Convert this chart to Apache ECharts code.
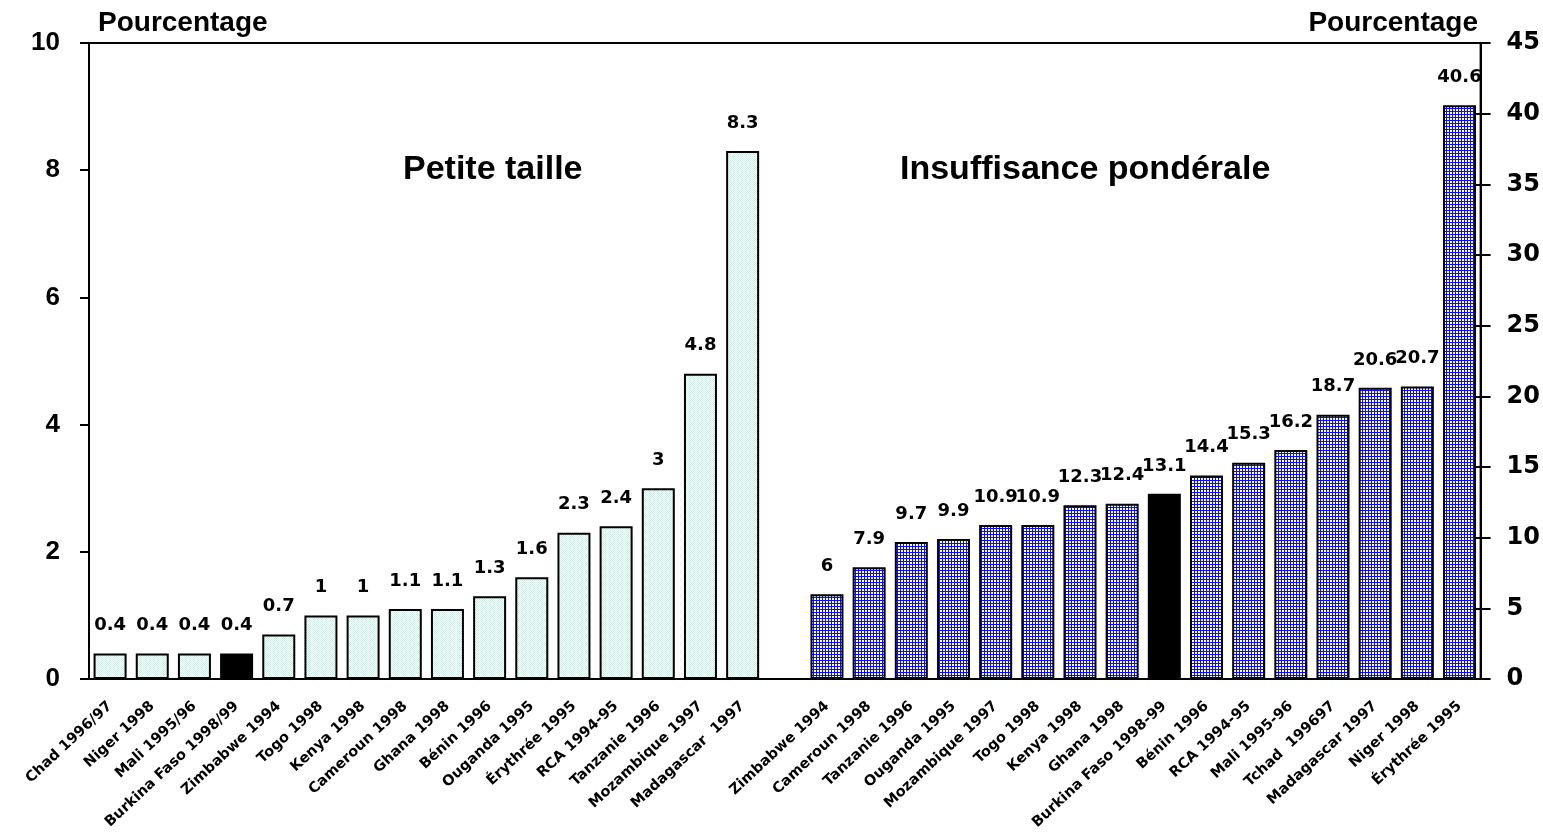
<!DOCTYPE html>
<html>
<head>
<meta charset="utf-8">
<script src="https://cdn.jsdelivr.net/npm/echarts@6/dist/echarts.min.js"></script>
<style>
  html, body { margin: 0; padding: 0; background: #fff; }
  #chart { width: 1543px; height: 840px; }
</style>
</head>
<body>
<div id="chart"></div>
<script>
// Petite taille (axe gauche)
const leftCats = ['Chad 1996/97', 'Niger 1998', 'Mali 1995/96', 'Burkina Faso 1998/99', 'Zimbabwe 1994',
  'Togo 1998', 'Kenya 1998', 'Cameroun 1998', 'Ghana 1998', 'Bénin 1996', 'Ouganda 1995',
  'Érythrée 1995', 'RCA 1994-95', 'Tanzanie 1996', 'Mozambique 1997', 'Madagascar  1997'];
const leftVals = [0.4, 0.4, 0.4, 0.4, 0.7, 1, 1, 1.1, 1.1, 1.3, 1.6, 2.3, 2.4, 3, 4.8, 8.3];

// Insuffisance pondérale (axe droit)
const rightCats = ['Zimbabwe 1994', 'Cameroun 1998', 'Tanzanie 1996', 'Ouganda 1995', 'Mozambique 1997',
  'Togo 1998', 'Kenya 1998', 'Ghana 1998', 'Burkina Faso 1998-99', 'Bénin 1996', 'RCA 1994-95',
  'Mali 1995-96', 'Tchad  199697', 'Madagascar 1997', 'Niger 1998', 'Érythrée 1995'];
const rightVals = [6, 7.9, 9.7, 9.9, 10.9, 10.9, 12.3, 12.4, 13.1, 14.4, 15.3, 16.2, 18.7, 20.6, 20.7, 40.6];

const highlightLeft = 'Burkina Faso 1998/99';
const highlightRight = 'Burkina Faso 1998-99';

const leftAxis = { min: 0, max: 10, interval: 2 };
const rightAxis = { min: 0, max: 45, interval: 5 };

// motifs de remplissage
function makePattern(size, draw) {
  const c = document.createElement('canvas');
  c.width = size; c.height = size;
  const ctx = c.getContext('2d');
  ctx.fillStyle = '#fff';
  ctx.fillRect(0, 0, size, size);
  draw(ctx);
  return { image: c, repeat: 'repeat' };
}
const dotPattern = makePattern(2, ctx => {
  ctx.fillStyle = '#c6f2e8';
  ctx.fillRect(0, 0, 1, 1);
  ctx.fillRect(1, 1, 1, 1);
});
const gridPattern = makePattern(3, ctx => {
  ctx.fillStyle = '#0a0aff';
  ctx.fillRect(0, 0, 3, 1);
  ctx.fillRect(0, 0, 1, 3);
});

const categories = leftCats.concat([''], rightCats);
const blanksRight = new Array(rightCats.length + 1).fill('-');
const blanksLeft = new Array(leftCats.length + 1).fill('-');

const leftData = leftVals.map((v, i) => leftCats[i] === highlightLeft
  ? { value: v, itemStyle: { color: '#000' } } : v).concat(blanksRight);
const rightData = blanksLeft.concat(rightVals.map((v, i) => rightCats[i] === highlightRight
  ? { value: v, itemStyle: { color: '#000' } } : v));

const axisFont = { color: '#000', fontWeight: 'bold', fontSize: 26, fontFamily: 'Liberation Sans, Arial' };
const valueLabel = {
  show: true, position: 'top', distance: 19, color: '#000',
  fontWeight: 'bold', fontSize: 18, fontFamily: 'DejaVu Sans'
};

const chart = echarts.init(document.getElementById('chart'));
chart.setOption({
  animation: false,
  grid: { left: 89, right: 62, top: 43, bottom: 161, show: true, borderColor: '#000', borderWidth: 2 },
  graphic: [
    { type: 'text', left: 98, top: 9, style: { text: 'Pourcentage', fill: '#000', font: 'bold 28px "Liberation Sans", Arial' } },
    { type: 'text', right: 65, top: 9, style: { text: 'Pourcentage', fill: '#000', font: 'bold 28px "Liberation Sans", Arial' } },
    { type: 'text', left: 403, top: 153, style: { text: 'Petite taille', fill: '#000', font: 'bold 34px "Liberation Sans", Arial' } },
    { type: 'text', left: 900, top: 153, style: { text: 'Insuffisance pondérale', fill: '#000', font: 'bold 34px "Liberation Sans", Arial' } }
  ],
  xAxis: {
    type: 'category',
    data: categories,
    axisLine: { lineStyle: { color: '#000', width: 2 } },
    axisTick: { show: false },
    axisLabel: {
      interval: 0, rotate: 43, margin: 25, color: '#000',
      fontWeight: 'bold', fontSize: 14.5, fontFamily: 'DejaVu Sans'
    }
  },
  yAxis: [
    {
      type: 'value', position: 'left', min: leftAxis.min, max: leftAxis.max, interval: leftAxis.interval,
      axisLine: { show: true, lineStyle: { color: '#000', width: 2 } },
      axisTick: { show: true, length: 9, lineStyle: { color: '#000', width: 2 } },
      axisLabel: Object.assign({ margin: 29 }, axisFont),
      splitLine: { show: false }
    },
    {
      type: 'value', position: 'right', min: rightAxis.min, max: rightAxis.max, interval: rightAxis.interval,
      axisLine: { show: true, lineStyle: { color: '#000', width: 2 } },
      axisTick: { show: true, length: 10, lineStyle: { color: '#000', width: 2 } },
      axisLabel: Object.assign({ margin: 26 }, axisFont, { fontFamily: 'DejaVu Sans', fontSize: 24 }),
      splitLine: { show: false }
    },
    {
      type: 'value', position: 'right', min: rightAxis.min, max: rightAxis.max, interval: rightAxis.interval,
      axisLine: { show: false },
      axisTick: { show: true, inside: true, length: 9, lineStyle: { color: '#000', width: 2 } },
      axisLabel: { show: false },
      splitLine: { show: false }
    }
  ],
  series: [
    {
      name: 'Petite taille', type: 'bar', yAxisIndex: 0, barWidth: 33, barGap: '-100%',
      data: leftData,
      itemStyle: { color: dotPattern, borderColor: '#000', borderWidth: 2 },
      label: valueLabel
    },
    {
      name: 'Insuffisance pondérale', type: 'bar', yAxisIndex: 1, barWidth: 33, barGap: '-100%',
      data: rightData,
      itemStyle: { color: gridPattern, borderColor: '#000', borderWidth: 2 },
      label: valueLabel
    }
  ]
});
</script>
</body>
</html>
